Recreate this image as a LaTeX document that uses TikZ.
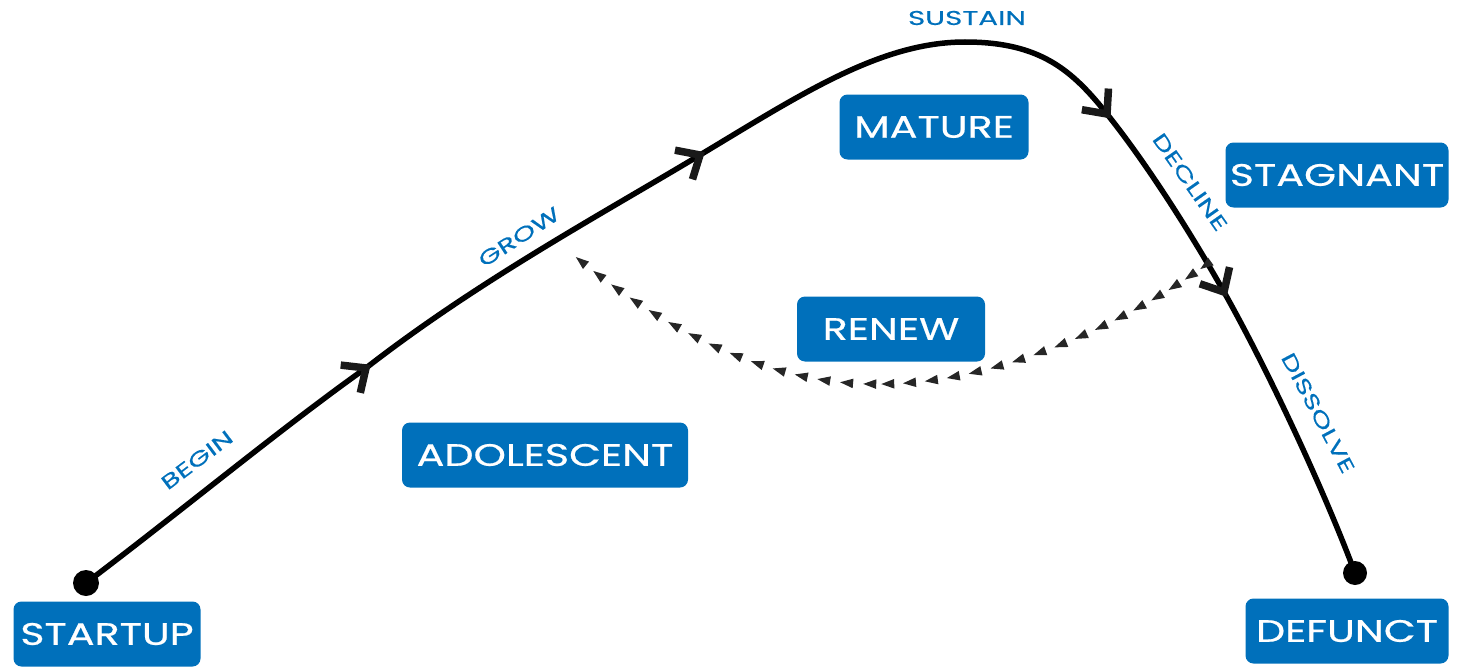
\documentclass[tikz,border=0pt]{standalone}
\usepackage{fontspec}
\setmainfont{Poppins}
\newfontfamily\boxfont{Poppins}[FakeStretch=1.33, FakeBold=0.6]
\newfontfamily\labfont{Poppins}[FakeStretch=1.47, FakeBold=0.3]
\definecolor{boxblue}{RGB}{0,112,187}
\tikzset{
  tri/.pic={\fill[black!85] (6pt,0pt) -- (-7pt,4.8pt) -- (-7pt,-4.8pt) -- cycle;},
  chevron/.pic={\draw[line width=7.5pt, line join=miter, line cap=butt, black!90] (-19pt,17pt) -- (0pt,0pt) -- (-19pt,-17pt);}
}
\begin{document}
\begin{tikzpicture}[x=1pt,y=-1pt,
  stage/.style={fill=boxblue, rounded corners=8pt, text=white, font=\boxfont\fontsize{31}{34}\selectfont, inner sep=0pt, minimum height=65pt},
  lab/.style={text=boxblue, font=\labfont\fontsize{20}{22}\selectfont, inner sep=0pt},
  dot/.style={circle, fill=black, inner sep=0pt, minimum size=26pt}
]
\useasboundingbox (0,0) rectangle (1466,669);
% stages
\node[stage, minimum width=187pt] (startup) at (107,634) {STARTUP};
\node[stage, minimum width=286pt] (adol) at (545,455) {ADOLESCENT};
\node[stage, minimum width=189pt] (mature) at (934,127) {MATURE};
\node[stage, minimum width=188pt] (renew) at (891,329) {RENEW};
\node[stage, minimum width=223pt] (stag) at (1337,175) {STAGNANT};
\node[stage, minimum width=203pt] (defunct) at (1347,631) {DEFUNCT};
% curve points
\node[dot] (s) at (86,583) {};
\node[dot, minimum size=24pt] (e) at (1355,573) {};
\coordinate (a1) at (366,368);
\coordinate (a2) at (700,155);
\coordinate (top) at (965,42);
\coordinate (a3) at (1107,114);
\coordinate (a4) at (1224,292);
\draw[line width=5.5pt] (s.center) .. controls (180,512) and (284,426) .. (a1)
  .. controls (478,281) and (600,215) .. (a2)
  .. controls (800,95) and (880,42) .. (top)
  .. controls (1040,42) and (1072,70) .. (a3)
  .. controls (1147,164) and (1192,235) .. (a4)
  .. controls (1264,363) and (1320,480) .. (e.center);
\path (s.center) .. controls (180,512) and (284,426) .. (a1) pic[pos=1, sloped, allow upside down] {chevron};
\path (a1) .. controls (478,281) and (600,215) .. (a2) pic[pos=1, sloped, allow upside down] {chevron};
\path (top) .. controls (1040,42) and (1072,70) .. (a3) pic[pos=1, sloped, allow upside down] {chevron};
\path (a3) .. controls (1147,164) and (1192,235) .. (a4) pic[pos=1, sloped, allow upside down] {chevron};
% renew loop
\coordinate (r1) at (1210,262);
\coordinate (bot) at (880,384);
\coordinate (r0) at (565,248);
\path (r1) .. controls (1130,321) and (1000,384) .. (bot)
  foreach \p in {0.02,0.08,...,0.99} {pic[pos=\p, sloped, allow upside down] {tri}};
\path (bot) .. controls (760,386) and (650,320) .. (r0)
  foreach \p in {0.03,0.095,...,0.99} {pic[pos=\p, sloped, allow upside down] {tri}};
% labels
\node[lab, rotate=37] (begin) at (197,460) {BEGIN};
\node[lab, rotate=33] (grow) at (519,237) {GROW};
\node[lab] (sustain) at (967,18) {SUSTAIN};
\node[lab, rotate=-55] (decline) at (1190,182) {DECLINE};
\node[lab, rotate=-62] (dissolve) at (1318,413) {DISSOLVE};
\end{tikzpicture}
\end{document}
